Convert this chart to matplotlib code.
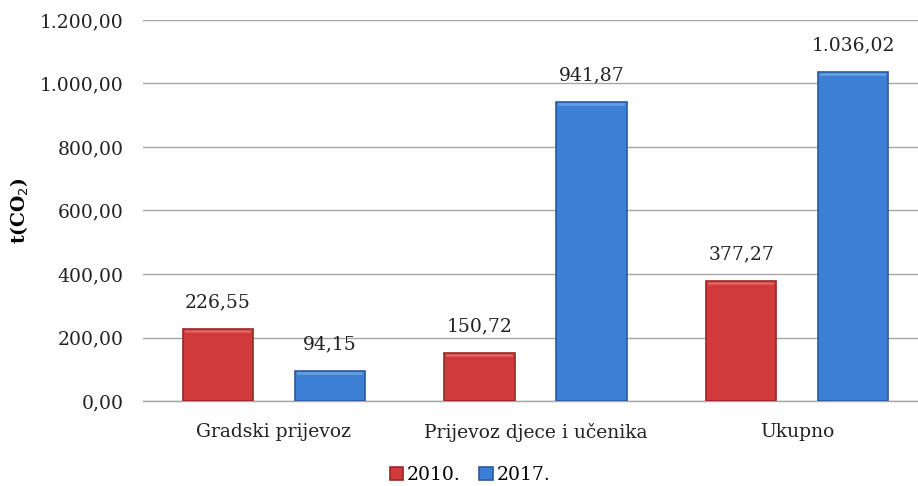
import matplotlib.pyplot as plt
import numpy as np

plt.rcParams['font.family'] = ['DejaVu Serif']
plt.rcParams['axes.unicode_minus'] = False

categories = ['Gradski prijevoz', 'Prijevoz djece i učenika', 'Ukupno']
years = ['2010.', '2017.']
values_2010 = [226.55, 150.72, 377.27]
values_2017 = [94.15, 941.87, 1036.02]
yticks = [0, 200, 400, 600, 800, 1000, 1200]


def fmt(v):
    # croatian number format: 1.036,02
    s = f"{v:,.2f}"
    return s.replace(',', 'X').replace('.', ',').replace('X', '.')


fig = plt.figure(figsize=(9.18, 4.86), dpi=100)
ax = fig.add_axes([143 / 918, 1 - 401 / 486, (918 - 143) / 918, 381 / 486])

x = np.arange(len(categories))
width = 0.27
offset = 0.214

colors = ['#d13a3a', '#3d7fd4']
edges = ['#9a2727', '#2a5a9c']
tops = ['#e86a6a', '#6ea6ea']
series = [values_2010, values_2017]

for i, vals in enumerate(series):
    pos = x + (-offset if i == 0 else offset)
    bars = ax.bar(pos, vals, width, color=colors[i], edgecolor=edges[i],
                  linewidth=1.2, label=years[i], zorder=3)
    # light bevel along the top of each bar
    ax.bar(pos, [10] * len(vals), width * 0.94, bottom=np.array(vals) - 13,
           color=tops[i], linewidth=0, alpha=0.7, zorder=4)
    for b, v in zip(bars, vals):
        ax.text(b.get_x() + b.get_width() / 2, v + 55, fmt(v),
                ha='center', va='bottom', fontsize=13.5, color='#222222')

ax.set_xlim(-0.5, 2.5 - 10 / 262)
ax.set_ylim(0, 1200)
ax.set_yticks(yticks)
ax.set_yticklabels([fmt(v) for v in yticks], fontsize=13.5, color='#222222')
ax.set_xticks(x)
ax.set_xticklabels(categories, fontsize=13.5, color='#222222')
ax.tick_params(axis='x', length=0, pad=16)
ax.tick_params(axis='y', length=0, pad=14)

ax.grid(axis='y', color='#a6a6a6', linewidth=1.0, zorder=0)
ax.axhline(0, color='#a6a6a6', linewidth=1.0, zorder=1, clip_on=False)
for s in ax.spines.values():
    s.set_visible(False)

ax.set_ylabel('t(CO$_2$)', fontsize=13.5, fontweight='bold')
ax.yaxis.set_label_coords(-(143 - 31) / 775, 0.5)

fig.legend(loc='center', bbox_to_anchor=(470 / 918, 1 - 475 / 486), ncol=2,
           frameon=False, fontsize=13.5, handlelength=0.7, handleheight=0.7,
           handletextpad=0.2, columnspacing=1.0)

fig.savefig('out.png', dpi=100)
